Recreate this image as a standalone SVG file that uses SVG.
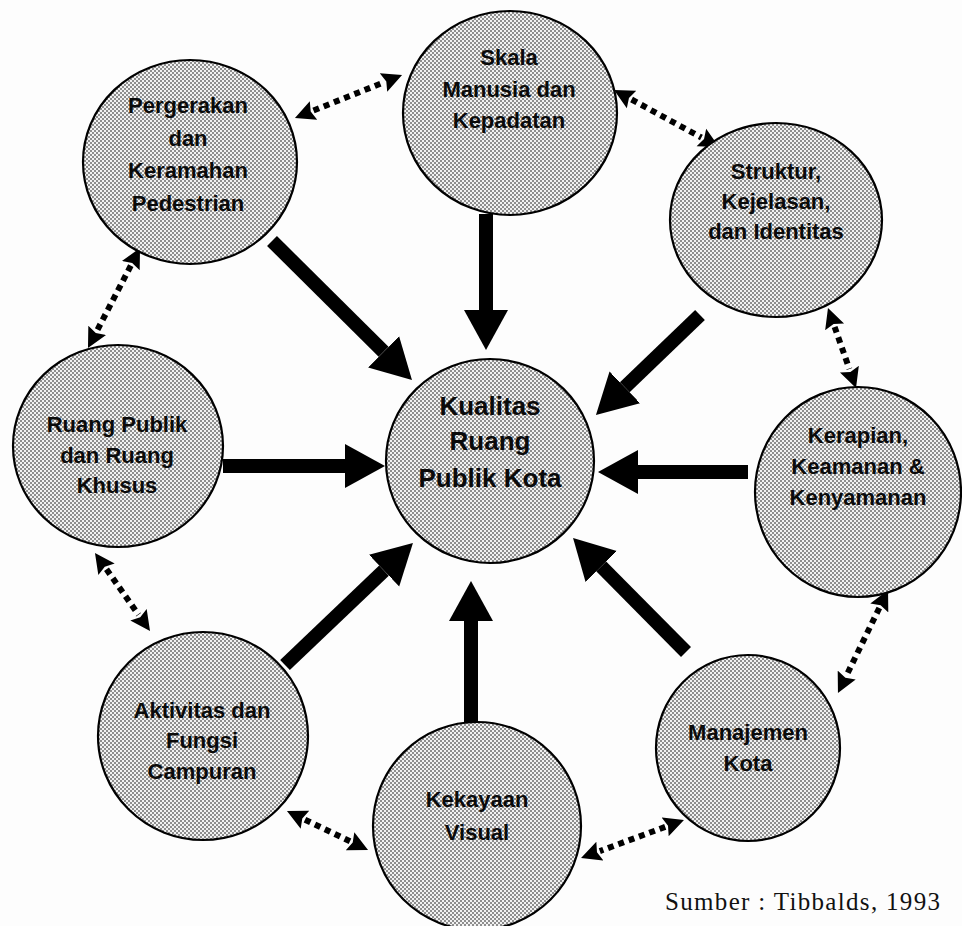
<svg xmlns="http://www.w3.org/2000/svg" width="962" height="926" viewBox="0 0 962 926">
<defs>
<pattern id="ht" width="4" height="4" patternUnits="userSpaceOnUse">
<rect width="4" height="4" fill="#f2f2f2"/>
<rect width="2" height="2" fill="#8e8e8e"/>
<rect x="2" y="2" width="2" height="2" fill="#8e8e8e"/>
</pattern>
<marker id="big" viewBox="0 -23 41 46" refX="0" refY="0" markerWidth="41" markerHeight="46" markerUnits="userSpaceOnUse" orient="auto">
<path d="M0,-22 L40,0 L0,22 Z" fill="#000"/>
</marker>
<marker id="small" viewBox="0 -11 21 22" refX="0" refY="0" markerWidth="21" markerHeight="22" markerUnits="userSpaceOnUse" orient="auto-start-reverse">
<path d="M0,-10 L20,0 L0,10 L3,0 Z" fill="#000"/>
</marker>
<style>
.node ellipse{fill:url(#ht);stroke:#000;stroke-width:2.2}
.node text{font-family:"Liberation Sans",Arial,sans-serif;font-weight:bold;font-size:22px;fill:#0a0a0a;text-anchor:middle}
#kualitas text{font-size:26px}
.solid{stroke:#000;stroke-width:14;fill:none;marker-end:url(#big)}
.dot{stroke:#000;stroke-width:6;stroke-dasharray:6 5;fill:none;marker-start:url(#small);marker-end:url(#small)}
.src{font-family:"Liberation Serif","Times New Roman",serif;font-size:25px;fill:#111}
</style>
</defs>
<rect width="962" height="926" fill="#fdfdfd"/>

<g id="connectors">
<line class="solid" x1="272" y1="241" x2="383.6" y2="351.8"/>
<line class="solid" x1="486" y1="214" x2="486" y2="310"/>
<line class="solid" x1="700" y1="315" x2="624.8" y2="387.3"/>
<line class="solid" x1="223" y1="466" x2="345" y2="466"/>
<line class="solid" x1="748" y1="472" x2="638" y2="472"/>
<line class="solid" x1="686" y1="652" x2="601.2" y2="566.4"/>
<line class="solid" x1="471" y1="722" x2="471" y2="621"/>
<line class="solid" x1="285" y1="665" x2="384" y2="570.6"/>

<line class="dot" x1="313.5" y1="110.5" x2="383.5" y2="82.5"/>
<line class="dot" x1="631.6" y1="99.5" x2="701.4" y2="137.5"/>
<line class="dot" x1="834.6" y1="326.9" x2="849.4" y2="369.1"/>
<line class="dot" x1="879.3" y1="608" x2="846.7" y2="675"/>
<line class="dot" x1="665.2" y1="826.9" x2="599.8" y2="851.1"/>
<line class="dot" x1="305" y1="819.7" x2="350" y2="841.3"/>
<line class="dot" x1="106.5" y1="569.3" x2="138.5" y2="614.7"/>
<line class="dot" x1="130.8" y1="265.7" x2="97.2" y2="330.3"/>
</g>

<g id="pergerakan" class="node">
<ellipse cx="190" cy="162" rx="107" ry="102"/>
<text x="188" y="113">Pergerakan</text>
<text x="188" y="146">dan</text>
<text x="188" y="178">Keramahan</text>
<text x="188" y="211">Pedestrian</text>
</g>

<g id="skala" class="node">
<ellipse cx="510" cy="113" rx="107" ry="102"/>
<text x="509" y="65">Skala</text>
<text x="509" y="97">Manusia dan</text>
<text x="509" y="128">Kepadatan</text>
</g>

<g id="struktur" class="node">
<ellipse cx="776" cy="220" rx="106" ry="97"/>
<text x="776" y="179">Struktur,</text>
<text x="776" y="209">Kejelasan,</text>
<text x="776" y="239">dan Identitas</text>
</g>

<g id="ruang" class="node">
<ellipse cx="118" cy="446" rx="105" ry="101"/>
<text x="117" y="432">Ruang Publik</text>
<text x="117" y="463">dan Ruang</text>
<text x="117" y="493">Khusus</text>
</g>

<g id="kualitas" class="node">
<ellipse cx="490" cy="461" rx="104" ry="102"/>
<text x="490" y="415">Kualitas</text>
<text x="490" y="450">Ruang</text>
<text x="490" y="487">Publik Kota</text>
</g>

<g id="kerapian" class="node">
<ellipse cx="858" cy="492" rx="103" ry="105"/>
<text x="858" y="443">Kerapian,</text>
<text x="858" y="474">Keamanan &amp;</text>
<text x="858" y="505">Kenyamanan</text>
</g>

<g id="aktivitas" class="node">
<ellipse cx="203" cy="736" rx="105" ry="104"/>
<text x="202" y="718">Aktivitas dan</text>
<text x="202" y="748">Fungsi</text>
<text x="202" y="779">Campuran</text>
</g>

<g id="kekayaan" class="node">
<ellipse cx="477" cy="826" rx="104" ry="104"/>
<text x="477" y="807">Kekayaan</text>
<text x="477" y="840">Visual</text>
</g>

<g id="manajemen" class="node">
<ellipse cx="748" cy="748" rx="92" ry="93"/>
<text x="748" y="740">Manajemen</text>
<text x="748" y="771">Kota</text>
</g>

<text class="src" x="665" y="910" textLength="275" lengthAdjust="spacing">Sumber : Tibbalds, 1993</text>
</svg>
